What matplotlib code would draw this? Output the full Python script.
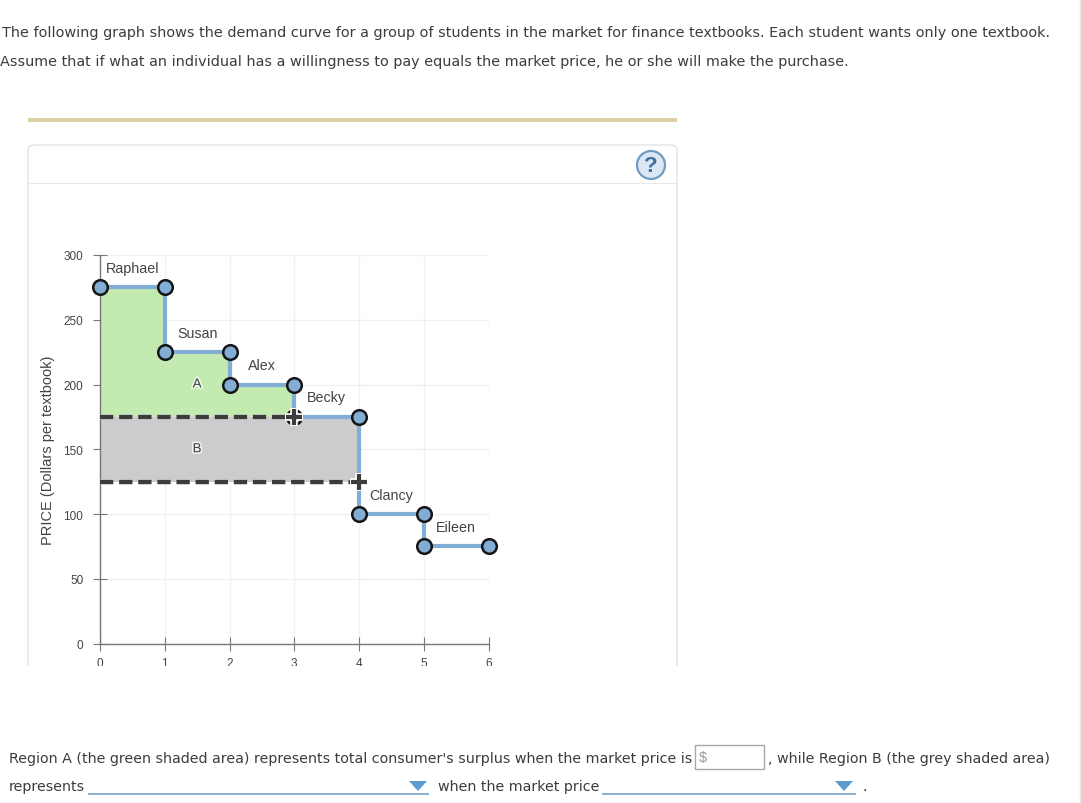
import matplotlib
matplotlib.use("Agg")
import matplotlib.pyplot as plt
from matplotlib.patches import Rectangle, FancyBboxPatch, Circle, Polygon
import matplotlib.patheffects as pe

students = ["Raphael", "Susan", "Alex", "Becky", "Clancy", "Eileen"]
prices = [275, 225, 200, 175, 100, 75]
market_prices = [175, 125]
x_ticks = [0, 1, 2, 3, 4, 5, 6]
y_ticks = [0, 50, 100, 150, 200, 250, 300]
intro_lines = [
    "The following graph shows the demand curve for a group of students in the market for finance textbooks. Each student wants only one textbook.",
    "Assume that if what an individual has a willingness to pay equals the market price, he or she will make the purchase.",
]
q1a = "Region A (the green shaded area) represents total consumer's surplus when the market price is"
q1b = ", while Region B (the grey shaded area)"
q2a = "represents"
q2b = "when the market price"

W, H = 1081, 804
fig = plt.figure(figsize=(W / 100, H / 100), dpi=100, facecolor="white")
VERD = "DejaVu Sans"
ARIAL = "Liberation Sans"
TXT = "#3c3c3c"

# page layer, in pixel coordinates
bg = fig.add_axes([0, 0, 1, 1], zorder=0)
bg.set_xlim(0, W); bg.set_ylim(H, 0); bg.axis("off")
bg.add_patch(Rectangle((28, 119), 649, 4, fc="#dfd0a3", ec="none"))
bg.add_patch(FancyBboxPatch((32, 150), 641, 600, boxstyle="round,pad=4,rounding_size=6",
                            fc="white", ec="#dcdcdc", lw=0.8))
bg.plot([28, 677], [184, 184], color="#e8e8e8", lw=0.8)

# chart layer
ax = fig.add_axes([100 / W, 1 - 644.5 / H, 388.5 / W, 388.5 / H], zorder=1)
ax.patch.set_alpha(0)
ax.set_xlim(0, 6); ax.set_ylim(0, 300)
ax.set_xticks(x_ticks); ax.set_yticks(y_ticks)
ax.grid(color="#f0f0f0", lw=1)
ax.set_axisbelow(True)
for s in ("top", "right"):
    ax.spines[s].set_visible(False)
for s in ("left", "bottom"):
    ax.spines[s].set_color("#777777"); ax.spines[s].set_linewidth(1)
ax.tick_params(direction="inout", length=10, width=0.8, color="#777777",
               labelcolor="#444444", labelsize=8.5)
for t in ax.get_xticklabels() + ax.get_yticklabels():
    t.set_fontfamily(ARIAL)
ax.tick_params(axis="y", pad=7)
ax.tick_params(axis="x", pad=4.5)
ax.set_ylabel("PRICE (Dollars per textbook)", fontfamily=ARIAL, fontsize=10.5,
              color="#444444", labelpad=6)

# shaded regions
for i, p in enumerate(prices):
    if p > market_prices[0]:
        ax.fill_between([i, i + 1], market_prices[0], p, color="#c3eab0", lw=0, zorder=1.5)
ax.fill_between([0, 4], market_prices[1], market_prices[0], color="#cccccc", lw=0, zorder=1.5)

# demand steps
BLUE = "#82aed6"
for i, p in enumerate(prices):
    ax.plot([i, i + 1], [p, p], color=BLUE, lw=3, zorder=3, solid_capstyle="butt")
    if i + 1 < len(prices):
        ax.plot([i + 1, i + 1], [p, prices[i + 1]], color=BLUE, lw=3, zorder=3,
                solid_capstyle="butt")

# step end points
for i, p in enumerate(prices):
    ax.plot([i, i + 1], [p, p], ls="none", marker="o", ms=10.5, mfc=BLUE, mec="#151515",
            mew=1.8, zorder=7, clip_on=False)
    ax.text(i + 0.5, p + 15, students[i], ha="center", va="center", fontsize=10.3,
            family=ARIAL, color="#444444", zorder=8)

# market price lines, drawn over the points they meet
for m, xe in zip(market_prices, (3, 4)):
    ax.plot([0, xe], [m, m], color="#3c3c3c", lw=3.2, dashes=(3.0, 1.3), zorder=4,
            path_effects=[pe.Stroke(linewidth=4.2, foreground="white", alpha=0.5), pe.Normal()])
    ax.plot([xe], [m], marker="+", ms=13.5, mew=5.5, color="white", zorder=8, clip_on=False)
    ax.plot([xe], [m], marker="+", ms=11.5, mew=3, color="#3c3c3c", zorder=9, clip_on=False)

halo = [pe.withStroke(linewidth=2.5, foreground="white", alpha=0.7)]
ax.text(1.5, 200, "A", ha="center", va="center", fontsize=9.5, family=ARIAL,
        color="#444444", zorder=8, path_effects=halo)
ax.text(1.5, 150, "B", ha="center", va="center", fontsize=9.5, family=ARIAL,
        color="#444444", zorder=8, path_effects=halo)

# top layer: crop and text
fg = fig.add_axes([0, 0, 1, 1], zorder=2)
fg.set_xlim(0, W); fg.set_ylim(H, 0); fg.axis("off"); fg.patch.set_alpha(0)
fg.add_patch(Rectangle((0, 667), W, H - 667, fc="white", ec="none"))

fg.add_patch(Circle((651, 166), 14, fc="#dbe7f3", ec="#6f9cc4", lw=1.6))
fg.text(651, 166.5, "?", ha="center", va="center", fontsize=16, family=ARIAL,
        color="#3f6f9f", fontweight="bold")

fs = 10.4
fb = 10.27
fg.text(2, 32.6, intro_lines[0], fontsize=fs, family=VERD, color=TXT, va="center")
fg.text(0, 61.6, intro_lines[1], fontsize=fs, family=VERD, color=TXT, va="center")
fg.text(9, 758.6, q1a, fontsize=fb, family=VERD, color=TXT, va="center")
fg.text(768, 758.6, q1b, fontsize=fb, family=VERD, color=TXT, va="center")
fg.text(9, 786.6, q2a, fontsize=fb, family=VERD, color=TXT, va="center")
fg.text(438, 786.6, q2b, fontsize=fb, family=VERD, color=TXT, va="center")
fg.text(863, 786.6, ".", fontsize=fb, family=VERD, color=TXT, va="center")

fg.add_patch(Rectangle((695, 746), 69, 24, fc="white", ec="#a8a8a8", lw=1))
fg.text(699, 758, "$", fontsize=10.5, family=ARIAL, color="#999999", va="center")

DROP = "#5b9bd0"
for x0, x1, tx in ((89, 428, 418), (603, 855, 844)):
    fg.plot([x0, x1], [795, 795], color="#7fa9d1", lw=1.3)
    fg.add_patch(Polygon([(tx - 9, 782), (tx + 9, 782), (tx, 792)], fc=DROP, ec="none"))

fg.plot([1079.5, 1079.5], [0, H], color="#e8e8e8", lw=1)

fig.savefig("out.png", dpi=100)
